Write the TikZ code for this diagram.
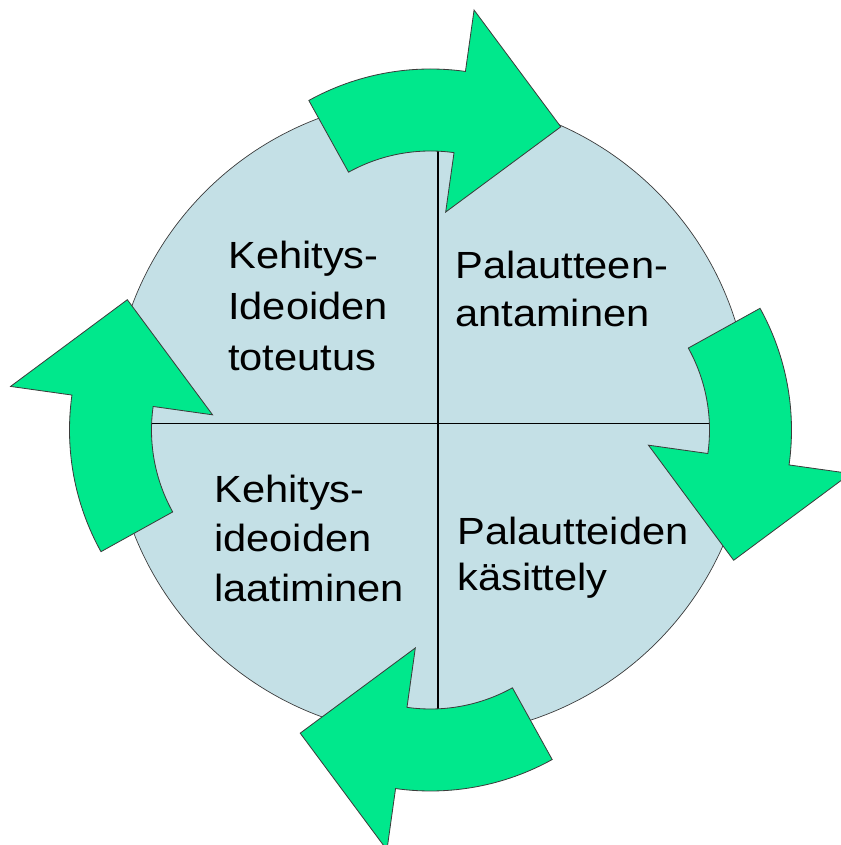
\documentclass[tikz,border=0pt]{standalone}
\usepackage{fontspec}
\newfontfamily\stagefont{Liberation Sans}[FakeStretch=1.1]
\usetikzlibrary{calc}
\definecolor{discfill}{RGB}{196,224,230}
\definecolor{arrowgreen}{RGB}{0,232,140}
\definecolor{edgegray}{RGB}{60,60,60}
\begin{document}
\begin{tikzpicture}[x=0.3mm,y=0.3mm,
  disc/.style={fill=discfill,draw=edgegray,line width=0.6pt},
  divider/.style={draw=black,line width=0.9pt},
  cyclearrow/.style={fill=arrowgreen,draw=edgegray,line width=0.7pt,line join=miter},
  stagetext/.style={anchor=base west,inner sep=0pt,
    font=\stagefont\fontsize{32.3}{40}\selectfont}]
\useasboundingbox (0,0) rectangle (840,845);

% the disc and its four quadrants
\coordinate (hub) at (430.5,415);
\coordinate (disccentre) at (431,428);
\draw[disc] (disccentre) circle[radius=319];
\coordinate (vtop) at (438,725);
\coordinate (vbot) at (438,115);
\coordinate (hleft) at (120,421.5);
\coordinate (hright) at (740,421.5);
\draw[divider] (vtop) -- (vbot);
\draw[divider] (hleft) -- (hright);

% four curved block arrows running clockwise round the disc
\foreach \rot/\nm in {0/top,-90/right,180/bottom,90/left}{
  \coordinate (\nm-c) at ($(hub)+(90+\rot:110)$);
  \draw[cyclearrow] ($(\nm-c)+(119+\rot:169)$)
      arc[start angle=119+\rot, end angle=82+\rot, radius=169]
    -- ($(\nm-c)+(82+\rot:109)$)
    -- ($(\nm-c)+(56+\rot:233)$)
    -- ($(\nm-c)+(82+\rot:313)$)
    -- ($(\nm-c)+(82+\rot:251)$)
      arc[start angle=82+\rot, end angle=119+\rot, radius=251]
    -- cycle;
}

% quadrant labels
\node[stagetext] (tl1) at (228,576) {Kehitys-};
\node[stagetext] (tl2) at (228,525) {Ideoiden};
\node[stagetext] (tl3) at (228,474) {toteutus};
\node[stagetext] (tr1) at (455,566) {Palautteen-};
\node[stagetext] (tr2) at (455,518) {antaminen};
\node[stagetext] (bl1) at (214,342) {Kehitys-};
\node[stagetext] (bl2) at (214,293) {ideoiden};
\node[stagetext] (bl3) at (214,243) {laatiminen};
\node[stagetext] (br1) at (457,300) {Palautteiden};
\node[stagetext] (br2) at (457,254) {käsittely};
\end{tikzpicture}
\end{document}
